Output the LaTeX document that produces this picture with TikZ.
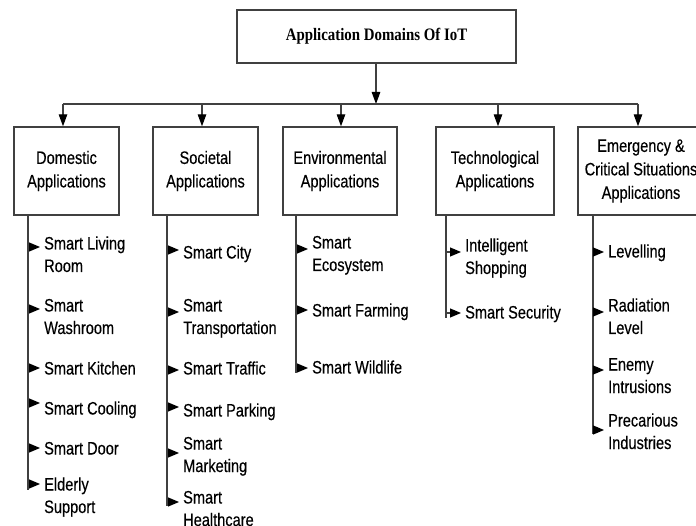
\documentclass[tikz,border=0pt]{standalone}
\usepackage{fontspec}
\newfontfamily\sansf[FakeStretch=0.81,FakeBold=0.3]{Liberation Sans}
\newfontfamily\serift[FakeStretch=0.85]{Liberation Serif}
\usetikzlibrary{arrows.meta}
\newcommand\twoln[2]{\vtop{\hbox{#1}\hbox{#2}}}
\begin{document}
\begin{tikzpicture}[x=1pt,y=-1pt,
  box/.style={draw=black!75, line width=1.4pt, fill=white, align=center,
    font=\sansf\fontsize{18}{23.5}\selectfont, inner sep=0pt},
  conn/.style={draw=black!75, line width=1.2pt},
  arr/.style={conn, -{Triangle[length=12pt,width=8.5pt,color=black]}},
  iarr/.style={conn, -{Triangle[length=11pt,width=9pt,color=black]}, shorten >=2pt},
  itm/.style={anchor=base west, inner sep=2pt,
    font=\sansf\fontsize{18}{22.5}\selectfont},
]
\useasboundingbox (0,0) rectangle (696,526);
\clip (0,0) rectangle (696,526);
\fill[white] (0,0) rectangle (696,526);

% top box
\node[box, minimum width=279pt, minimum height=53pt,
  font=\serift\bfseries\fontsize{17.5}{20}\selectfont] (top) at (376.5,36.5) {Application Domains Of IoT};

% category boxes
\node[box, minimum width=105pt, minimum height=88pt] (dom) at (66.5,171) {Domestic\\Applications};
\node[box, minimum width=105pt, minimum height=88pt] (soc) at (205.5,171) {Societal\\Applications};
\node[box, minimum width=114pt, minimum height=88pt] (env) at (340,171) {Environmental\\Applications};
\node[box, minimum width=118pt, minimum height=88pt] (tec) at (495,171) {Technological\\Applications};
\node[box, minimum width=126pt, minimum height=88pt] (emg) at (641,171) {Emergency \&\\Critical Situations\\Applications};

% bus
\coordinate (jt) at (376,104);
\coordinate (j1) at (63,104);
\coordinate (j2) at (202,104);
\coordinate (j3) at (341,104);
\coordinate (j4) at (498,104);
\coordinate (j5) at (638,104);
\draw[arr] (top.south -| jt) -- (jt);
\draw[conn] (j1) -- (j5);
\draw[arr] (j1) -- (j1 |- dom.north);
\draw[arr] (j2) -- (j2 |- soc.north);
\draw[arr] (j3) -- (j3 |- env.north);
\draw[arr] (j4) -- (j4 |- tec.north);
\draw[arr] (j5) -- (j5 |- emg.north);

% Domestic items
\coordinate (dl) at (28,216);
\coordinate (dle) at (28,490);
\draw[conn] (dl) -- (dle);
\node[itm] (d1) at (42,249.5) {\twoln{Smart Living}{Room}};
\node[itm] (d2) at (42,311.5) {\twoln{Smart}{Washroom}};
\node[itm] (d3) at (42,374.5) {Smart Kitchen};
\node[itm] (d4) at (42,414.5) {Smart Cooling};
\node[itm] (d5) at (42,454.5) {Smart Door};
\node[itm] (d6) at (42,490.5) {\twoln{Elderly}{Support}};
\foreach \n/\y in {d1/247,d2/309,d3/368,d4/403,d5/448,d6/484}{
  \coordinate (\n a) at (28,\y);
  \draw[iarr] (\n a) -- (\n a -| \n.west);
}

% Societal items
\coordinate (sl) at (167,216);
\coordinate (sle) at (167,506);
\draw[conn] (sl) -- (sle);
\node[itm] (s1) at (181,258.5) {Smart City};
\node[itm] (s2) at (181,311.5) {\twoln{Smart}{Transportation}};
\node[itm] (s3) at (181,374.5) {Smart Traffic};
\node[itm] (s4) at (181,416.5) {Smart Parking};
\node[itm] (s5) at (181,449.5) {\twoln{Smart}{Marketing}};
\node[itm] (s6) at (181,503.5) {\twoln{Smart}{Healthcare}};
\foreach \n/\y in {s1/250,s2/312,s3/370,s4/407,s5/453,s6/502}{
  \coordinate (\n a) at (167,\y);
  \draw[iarr] (\n a) -- (\n a -| \n.west);
}

% Environmental items
\coordinate (el) at (296,216);
\coordinate (ele) at (296,373);
\draw[conn] (el) -- (ele);
\node[itm] (e1) at (310,248.5) {\twoln{Smart}{Ecosystem}};
\node[itm] (e2) at (310,316.5) {Smart Farming};
\node[itm] (e3) at (310,373.5) {Smart Wildlife};
\foreach \n/\y in {e1/249,e2/310,e3/368}{
  \coordinate (\n a) at (296,\y);
  \draw[iarr] (\n a) -- (\n a -| \n.west);
}

% Technological items
\coordinate (tl) at (446,216);
\coordinate (tle) at (446,318);
\draw[conn] (tl) -- (tle);
\node[itm] (t1) at (463,251.5) {\twoln{Intelligent}{Shopping}};
\node[itm] (t2) at (463,318.5) {Smart Security};
\foreach \n/\y in {t1/252,t2/313}{
  \coordinate (\n a) at (446,\y);
  \draw[iarr] (\n a) -- (\n a -| \n.west);
}

% Emergency items
\coordinate (ml) at (593,216);
\coordinate (mle) at (593,434);
\draw[conn] (ml) -- (mle);
\node[itm] (m1) at (606,257.5) {Levelling};
\node[itm] (m2) at (606,311.5) {\twoln{Radiation}{Level}};
\node[itm] (m3) at (606,370.5) {\twoln{Enemy}{Intrusions}};
\node[itm] (m4) at (606,426.5) {\twoln{Precarious}{Industries}};
\foreach \n/\y in {m1/252,m2/312,m3/370,m4/430}{
  \coordinate (\n a) at (593,\y);
  \draw[iarr] (\n a) -- (\n a -| \n.west);
}
\end{tikzpicture}
\end{document}
